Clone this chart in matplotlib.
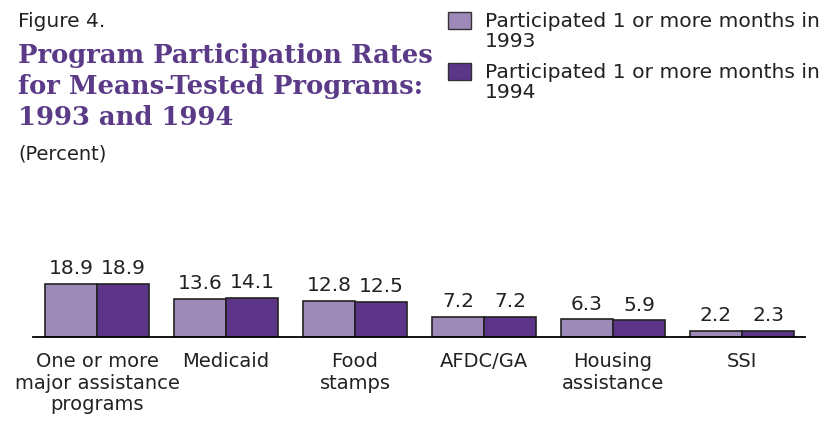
import matplotlib.pyplot as plt
from matplotlib.patches import Rectangle

categories = ['One or more\nmajor assistance\nprograms', 'Medicaid', 'Food\nstamps',
              'AFDC/GA', 'Housing\nassistance', 'SSI']
rates_1993 = [18.9, 13.6, 12.8, 7.2, 6.3, 2.2]
rates_1994 = [18.9, 14.1, 12.5, 7.2, 5.9, 2.3]
series_labels = ['Participated 1 or more months in\n1993',
                 'Participated 1 or more months in\n1994']
title_lines = ['Program Participation Rates', 'for Means-Tested Programs:', '1993 and 1994']

light = '#9e8ab8'
dark = '#5c3589'
purple_title = '#5b3a88'
txt = '#222222'
W, H = 830, 424

plt.rcParams['font.family'] = ['DejaVu Sans']

fig = plt.figure(figsize=(W / 100, H / 100), dpi=100)

# axes placed in pixel units: baseline at y=337, x from 33 to 805
ax = fig.add_axes([33 / W, (H - 337) / H, (805 - 33) / W, 70 / H])
ax.set_xlim(-0.496, 5.488)
ax.set_ylim(0, 25)

x = list(range(len(categories)))
bw = 52 / 129
b1 = ax.bar([i - bw / 2 for i in x], rates_1993, bw, color=light, edgecolor=txt, linewidth=1.2)
b2 = ax.bar([i + bw / 2 for i in x], rates_1994, bw, color=dark, edgecolor=txt, linewidth=1.2)
for bars in (b1, b2):
    for b in bars:
        ax.annotate(f'{b.get_height():.1f}', (b.get_x() + b.get_width() / 2, b.get_height()),
                    xytext=(0, 7), textcoords='offset points',
                    ha='center', va='baseline', fontsize=14.5, color=txt)

for s in ['top', 'right', 'left']:
    ax.spines[s].set_visible(False)
ax.spines['bottom'].set_linewidth(1.3)
ax.set_yticks([])
ax.set_xticks(x)
ax.set_xticklabels(categories, fontsize=14, color=txt, linespacing=1.15)
ax.tick_params(axis='x', length=0, pad=11)


def fx(px, py):
    return px / W, 1 - py / H


fig.text(*fx(18, 27), 'Figure 4.', fontsize=14.5, color=txt, va='baseline')
for k, line in enumerate(title_lines):
    fig.text(*fx(18, 63 + 31 * k), line, fontsize=18.6, fontweight='bold',
             color=purple_title, va='baseline', family=['DejaVu Serif'])
fig.text(*fx(18, 159), '(Percent)', fontsize=14, color=txt, va='baseline')

# legend drawn by hand
for ly, lab, col in [(12, series_labels[0], light), (63, series_labels[1], dark)]:
    fig.patches.append(Rectangle(fx(448, ly + 17), 23 / W, 17 / H, transform=fig.transFigure,
                                 facecolor=col, edgecolor='#333333', linewidth=1))
    for j, part in enumerate(lab.split('\n')):
        fig.text(*fx(485, ly + 15 + 20 * j), part, fontsize=14.6, color=txt, va='baseline')

fig.savefig('out.png', dpi=100)
